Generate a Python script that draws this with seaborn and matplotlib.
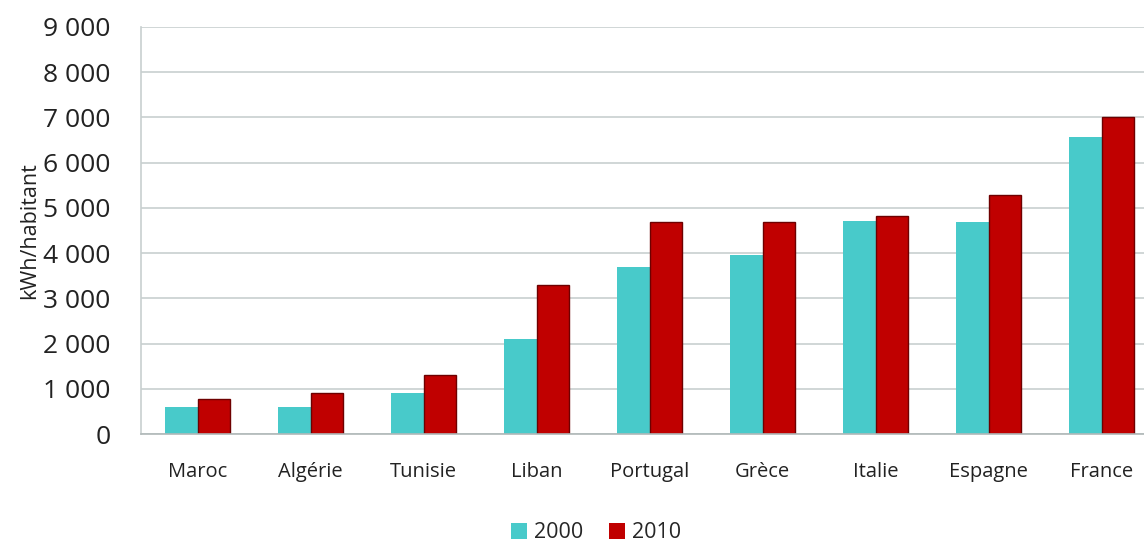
import pandas as pd
import matplotlib.pyplot as plt
import seaborn as sns
from matplotlib.ticker import FuncFormatter, FixedLocator

pays = ["Maroc", "Algérie", "Tunisie", "Liban", "Portugal", "Grèce", "Italie", "Espagne", "France"]
val_2000 = [600, 600, 900, 2100, 3700, 3950, 4700, 4680, 6570]
val_2010 = [770, 900, 1300, 3300, 4680, 4680, 4830, 5280, 7000]
annees = ["2000", "2010"]

df = pd.DataFrame({
    "pays": pays * 2,
    "annee": [annees[0]] * len(pays) + [annees[1]] * len(pays),
    "kwh": val_2000 + val_2010,
})

sns.set_style("white")
plt.rcParams["font.family"] = ["Open Sans", "DejaVu Sans"]

fig = plt.figure(figsize=(11.44, 5.45), dpi=100)
ax = fig.add_axes([141 / 1144, 1 - 434 / 545, (1158 - 141) / 1144, (434 - 27) / 545])

sns.barplot(data=df, x="pays", y="kwh", hue="annee", order=pays, hue_order=annees,
            palette=["#48CACA", "#C00000"], saturation=1, width=0.57, gap=0, ax=ax,
            edgecolor="none", linewidth=0)
# contour foncé sur les barres 2010
for bar in ax.containers[1]:
    bar.set_edgecolor("#6e0000")
    bar.set_linewidth(1.0)

ax.set_xlim(-0.5, len(pays) - 0.5)
ax.set_ylim(0, 9000)
ax.set_yticks(range(0, 9001, 1000))
ax.yaxis.set_major_formatter(FuncFormatter(lambda v, p: f"{int(v):,}".replace(",", " ")))
ax.yaxis.grid(True, color="#c8cfcf", linewidth=1.2)
ax.set_axisbelow(True)
ax.tick_params(axis="y", length=0, labelsize=19, pad=22, colors="#222222")
ax.tick_params(axis="x", length=0, labelsize=14.5, pad=20, colors="#222222")
ax.xaxis.set_minor_locator(FixedLocator([i + 0.5 for i in range(len(pays))]))
ax.tick_params(axis="x", which="minor", length=6, width=1, color="#b0b8b8", direction="out")

for s in ["top", "right"]:
    ax.spines[s].set_visible(False)
ax.spines["left"].set_color("#c8cfcf")
ax.spines["left"].set_linewidth(1.2)
ax.spines["bottom"].set_color("#b0b8b8")
ax.spines["bottom"].set_linewidth(1.2)

ax.set_xlabel("")
ax.set_ylabel("kWh/habitant", fontsize=15.5, labelpad=2, color="#222222")

ax.legend(handles=ax.legend_.legend_handles, labels=annees, loc="center",
          bbox_to_anchor=(596 / 1144, 1 - 533 / 545), bbox_transform=fig.transFigure,
          ncol=2, frameon=False, fontsize=15.5, handlelength=0.75, handleheight=0.75,
          handletextpad=0.3, columnspacing=1.2)

plt.savefig("out.png", dpi=100)
plt.close()
